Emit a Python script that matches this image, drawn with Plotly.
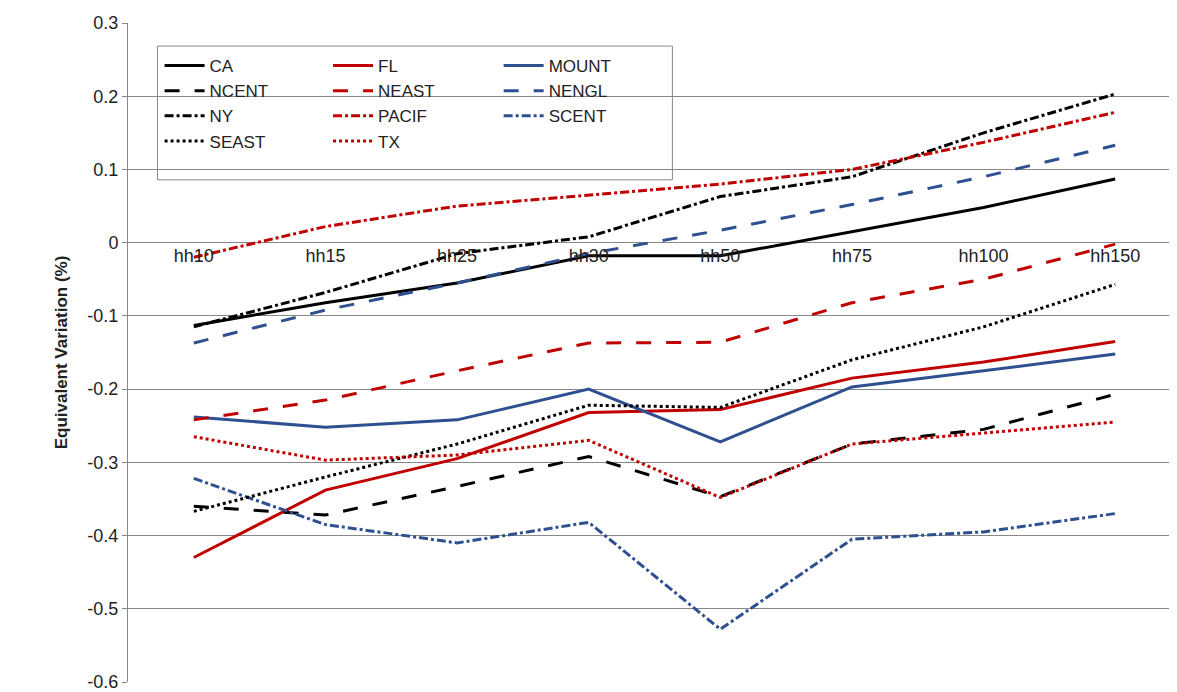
import plotly.graph_objects as go

# categories and series values
categories = ["hh10", "hh15", "hh25", "hh30", "hh50", "hh75", "hh100", "hh150"]

ca = [-0.113, -0.082, -0.055, -0.018, -0.018, 0.015, 0.048, 0.087]
fl = [-0.430, -0.338, -0.295, -0.232, -0.228, -0.185, -0.163, -0.135]
mount = [-0.238, -0.252, -0.242, -0.200, -0.272, -0.197, -0.175, -0.152]
ncent = [-0.360, -0.372, -0.333, -0.292, -0.347, -0.275, -0.255, -0.207]
neast = [-0.242, -0.215, -0.175, -0.137, -0.136, -0.082, -0.050, -0.002]
nengl = [-0.137, -0.092, -0.055, -0.015, 0.017, 0.052, 0.090, 0.133]
ny = [-0.115, -0.068, -0.015, 0.008, 0.063, 0.090, 0.150, 0.203]
pacif = [-0.020, 0.022, 0.050, 0.065, 0.080, 0.100, 0.137, 0.178]
scent = [-0.322, -0.385, -0.410, -0.382, -0.528, -0.405, -0.395, -0.370]
seast = [-0.367, -0.320, -0.275, -0.222, -0.225, -0.160, -0.115, -0.057]
tx = [-0.265, -0.297, -0.290, -0.270, -0.348, -0.275, -0.260, -0.245]

y_ticks = [0.3, 0.2, 0.1, 0, -0.1, -0.2, -0.3, -0.4, -0.5, -0.6]
y_labels = ["0.3", "0.2", "0.1", "0", "-0.1", "-0.2", "-0.3", "-0.4", "-0.5", "-0.6"]

BLACK = "#000000"
RED = "#C00000"
BLUE = "#2F5090"

# (name, values, colour, dash, legend column)
series = [
    ("CA", ca, BLACK, "solid", "legend"),
    ("FL", fl, RED, "solid", "legend2"),
    ("MOUNT", mount, BLUE, "solid", "legend3"),
    ("NCENT", ncent, BLACK, "longdash", "legend"),
    ("NEAST", neast, RED, "longdash", "legend2"),
    ("NENGL", nengl, BLUE, "longdash", "legend3"),
    ("NY", ny, BLACK, "dashdot", "legend"),
    ("PACIF", pacif, RED, "dashdot", "legend2"),
    ("SCENT", scent, BLUE, "dashdot", "legend3"),
    ("SEAST", seast, BLACK, "dot", "legend"),
    ("TX", tx, RED, "dot", "legend2"),
]

fig = go.Figure()
for name, vals, color, dash, leg in series:
    fig.add_trace(go.Scatter(
        x=categories, y=vals, name=name, mode="lines", legend=leg,
        legendgroup=name,
        line=dict(color=color, width=3, dash=dash)
    ))

def legend_at(x):
    return dict(
        x=x, y=0.962, xanchor="left", yanchor="top",
        bgcolor="rgba(0,0,0,0)", borderwidth=0, traceorder="normal",
        tracegroupgap=12, font=dict(size=17), itemwidth=40,
    )

fig.add_shape(type="rect", xref="paper", yref="paper",
              x0=0.028, x1=0.517, y0=0.762, y1=0.965,
              line=dict(color="#888", width=1), fillcolor="white", layer="below")

fig.update_layout(
    width=1177, height=692,
    margin=dict(l=120, r=4, t=15, b=18),
    paper_bgcolor="white", plot_bgcolor="white",
    font=dict(family="Liberation Sans, Arial", size=17, color="#222"),
    showlegend=True,
    legend=legend_at(0.030),
    legend2=legend_at(0.190),
    legend3=legend_at(0.352),
    xaxis=dict(
        type="category", range=[-0.5, 7.5],
        anchor="free", position=0.6667,
        showgrid=False, showline=False, zeroline=False,
        ticks="", tickfont=dict(size=18),
    ),
    yaxis=dict(
        range=[-0.6, 0.3], tickvals=y_ticks, ticktext=y_labels,
        showgrid=True, gridcolor="#888", gridwidth=1,
        showline=True, linecolor="#888", zeroline=False,
        ticks="outside", ticklen=5, tickcolor="#888", tickfont=dict(size=18),
        title=dict(text="<b>Equivalent Variation (%)</b>", font=dict(size=17), standoff=15),
    ),
)

fig.write_html("out.html")
